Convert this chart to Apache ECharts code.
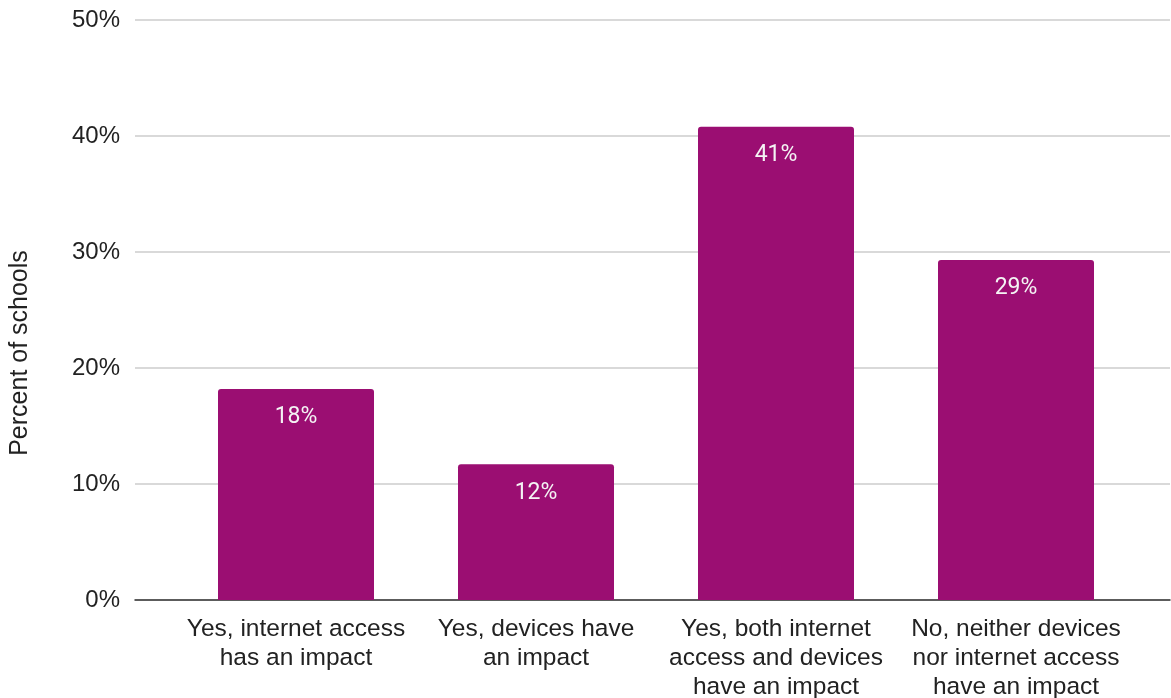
<!DOCTYPE html>
<html>
<head>
<meta charset="utf-8">
<script src="https://cdn.jsdelivr.net/npm/echarts@6/dist/echarts.min.js"></script>
<style>
  html, body { margin: 0; padding: 0; background: #fff; }
  #chart { width: 1171px; height: 698px; }
</style>
</head>
<body>
<div id="chart"></div>
<script>
// Survey answers: does device / internet access affect the school?
const categories = [
  'Yes, internet access\nhas an impact',
  'Yes, devices have\nan impact',
  'Yes, both internet\naccess and devices\nhave an impact',
  'No, neither devices\nnor internet access\nhave an impact'
];
const percentOfSchools = [18.2, 11.7, 40.8, 29.3];
const yTicks = [0, 10, 20, 30, 40, 50];

const yMin = yTicks[0];
const yMax = yTicks[yTicks.length - 1];
const yStep = yTicks[1] - yTicks[0];

const chart = echarts.init(document.getElementById('chart'), null, { renderer: 'canvas' });

const axisFont = 'Liberation Sans, Arial, sans-serif';

chart.setOption({
  animation: false,
  backgroundColor: '#ffffff',
  grid: [
    // full-width frame: gridlines, y labels and the baseline
    { left: 135, right: 1, top: 20, bottom: 98, outerBoundsMode: 'none', containLabel: false },
    // inner area holding the bars and category labels
    { left: 176, right: 35, top: 20, bottom: 98, outerBoundsMode: 'none', containLabel: false }
  ],
  xAxis: [
    {
      gridIndex: 0, type: 'category', data: [''],
      axisLine: { show: true, lineStyle: { color: '#333333', width: 1.5 } },
      axisTick: { show: false }, axisLabel: { show: false }
    },
    {
      gridIndex: 1, type: 'category', data: categories,
      axisLine: { show: false }, axisTick: { show: false },
      axisLabel: {
        interval: 0, margin: 15,
        fontFamily: axisFont, fontSize: 24.5, lineHeight: 29, color: '#222222',
        align: 'center'
      }
    }
  ],
  yAxis: [
    {
      gridIndex: 0, type: 'value', min: yMin, max: yMax, interval: yStep,
      axisLine: { show: false }, axisTick: { show: false },
      splitLine: { show: true, lineStyle: { color: '#cccccc', width: 1.5 } },
      axisLabel: {
        margin: 15, fontFamily: axisFont, fontSize: 24, color: '#222222',
        formatter: v => v + '%'
      }
    },
    {
      gridIndex: 1, type: 'value', min: yMin, max: yMax, interval: yStep,
      show: false, splitLine: { show: false }
    }
  ],
  graphic: [{
    type: 'text',
    x: 20, y: 353, rotation: Math.PI / 2,
    style: {
      text: 'Percent of schools',
      fontFamily: axisFont, fontSize: 25, fill: '#222222',
      align: 'center', verticalAlign: 'middle'
    }
  }],
  series: [{
    type: 'bar',
    xAxisIndex: 1, yAxisIndex: 1,
    data: percentOfSchools,
    barCategoryGap: '35%',
    itemStyle: { color: '#9b0e72', borderRadius: [3, 3, 0, 0] },
    label: {
      show: true, position: 'insideTop', distance: 17,
      fontFamily: 'Roboto, sans-serif', fontSize: 23, color: '#f4f4f4',
      formatter: p => Math.round(p.value) + '%'
    },
    z: 3
  }]
});
</script>
</body>
</html>
